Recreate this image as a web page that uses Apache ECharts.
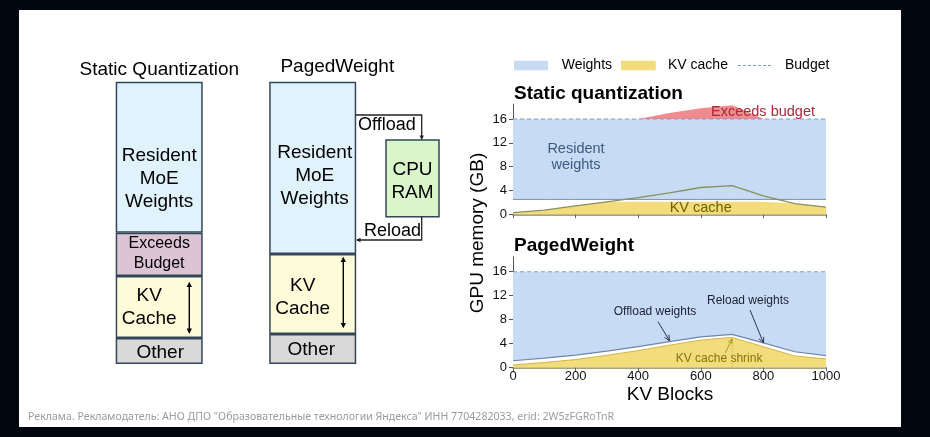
<!DOCTYPE html>
<html><head><meta charset="utf-8">
<script src="https://cdn.jsdelivr.net/npm/echarts@6/dist/echarts.min.js"></script>
<style>html,body{margin:0;padding:0;background:#02060f;}#c{width:930px;height:437px;}</style>
</head><body><div id="c"></div>
<script>
// ---------- Left schematic: memory layout (stacked bars, arbitrary units) ----------
const schemeCats = ['Static Quantization', 'PagedWeight'];
const schemeOther = [26, 30];
const schemeKv = [62, 80];
const schemeExceeds = [43, null];
const schemeWeights = [151, 172];
const schemeMax = 282;

// ---------- Right charts: GPU memory (GB) vs KV Blocks ----------
const kvBlocks = [0, 100, 200, 300, 400, 500, 600, 700, 800, 900, 1000];
const blockTicks = [0, 200, 400, 600, 800, 1000];
const gbTicks = [0, 4, 8, 12, 16];
const gbMax = 18.5;
const budgetGB = 16;

// Static quantization
const staticResidentBottom = 2.5;
const staticKvLine = [0.27, 0.7, 1.4, 2.1, 2.8, 3.6, 4.5, 4.8, 3.1, 1.8, 1.2];
const staticKvFill = [0.27, 0.7, 1.4, 2.1, 2.1, 2.1, 2.1, 2.1, 2.1, 1.8, 1.2];
const exceedBlocks = [400, 500, 600, 700, 750, 800];
const exceedTop = [16, 17.0, 17.8, 18.3, 17.2, 16];

// PagedWeight
const pagedWeightsBottom = [1.1, 1.55, 2.05, 2.7, 3.45, 4.3, 5.1, 5.5, 4.1, 2.6, 1.95];
const pagedKv = [0.4, 0.8, 1.3, 2.0, 2.8, 3.7, 4.55, 5.0, 3.45, 1.9, 1.4];

// ---------- styling ----------
const FONT = 'Liberation Sans, Arial, sans-serif';
const C_BLUE = '#c7dbf4', C_YEL = '#f2dc7c', C_RED = '#f28b90';
const C_BUDGET = '#7f9cc3';

const chart = echarts.init(document.getElementById('c'));
const pairs = (xs, ys) => xs.map((x, i) => [x, ys[i]]);
const flat = (v) => kvBlocks.map(x => [x, v]);
const edge = (v) => [[kvBlocks[0], v], [kvBlocks[kvBlocks.length - 1], v]];

const barBorder = { borderColor: '#34475a', borderWidth: 1.5 };
function barSeries(name, vals, color, text, fontSize, lh, offsets) {
  return {
    type: 'bar', name, xAxisIndex: 0, yAxisIndex: 0, stack: 'mem', barWidth: 87,
    itemStyle: Object.assign({ color }, barBorder),
    data: vals.map((v, i) => ({
      value: v,
      label: { show: v != null, position: 'inside', formatter: text, offset: offsets[i],
        fontSize, lineHeight: lh, color: '#000', fontFamily: FONT }
    }))
  };
}
function lineSeries(idx, data, opts) {
  return Object.assign({ type: 'line', xAxisIndex: idx, yAxisIndex: idx, data, symbol: 'none',
    silent: true, animation: false, lineStyle: { width: 0 } }, opts);
}
function valX(idx, showLabels) {
  return { type: 'value', gridIndex: idx, min: 0, max: 1000, interval: 200,
    axisLine: { lineStyle: { color: '#8c8550', width: 1.5 } },
    axisTick: { show: true, length: 4, customValues: blockTicks, lineStyle: { color: '#666' } },
    axisLabel: { show: showLabels, fontSize: 13, color: '#111', margin: 3, fontFamily: FONT,
      customValues: blockTicks, formatter: v => String(v) },
    splitLine: { show: false } };
}
function valY(idx) {
  return { type: 'value', gridIndex: idx, min: 0, max: gbMax, interval: 4,
    axisLine: { show: true, lineStyle: { color: '#555', width: 1 } },
    axisTick: { show: true, length: 4, customValues: gbTicks, lineStyle: { color: '#555' } },
    axisLabel: { fontSize: 13, color: '#111', margin: 6, fontFamily: FONT, customValues: gbTicks,
      formatter: v => gbTicks.includes(v) ? String(v) : '' },
    splitLine: { show: false } };
}

chart.setOption({
  backgroundColor: '#02060f',
  animation: false,
  grid: [
    { left: 82.45, width: 307, top: 81.7, height: 282.3 },
    { left: 513, width: 313, top: 104.1, height: 110.2 },
    { left: 513, width: 313, top: 256.8, height: 110.5 }
  ],
  xAxis: [
    { type: 'category', gridIndex: 0, data: schemeCats, show: false },
    valX(1, false),
    valX(2, true)
  ],
  yAxis: [
    { type: 'value', gridIndex: 0, min: 0, max: schemeMax, show: false },
    valY(1),
    valY(2)
  ],
  series: [
    barSeries('Other', schemeOther, '#d9d9d9', 'Other', 19, 23, [[1, 2], [-1.4, 1]]),
    barSeries('KV Cache', schemeKv, '#fdfbd8', 'KV\nCache', 19, 23, [[-10, 0], [-10, 3]]),
    barSeries('Exceeds Budget', schemeExceeds, '#dcc4d5', 'Exceeds\nBudget', 16, 20, [[0, -1], [0, 0]]),
    barSeries('Resident MoE Weights', schemeWeights, '#e0f2fc', 'Resident\nMoE\nWeights', 19, 23, [[0, 21], [2, 8.4]]),

    // Static quantization
    lineSeries(1, pairs(exceedBlocks, exceedTop), { name: 'Exceeds budget', areaStyle: { color: C_RED, opacity: 1 } }),
    lineSeries(1, edge(budgetGB), { name: 'Weights', areaStyle: { color: C_BLUE, opacity: 1 } }),
    lineSeries(1, flat(staticResidentBottom), { areaStyle: { color: '#ffffff', opacity: 1 }, lineStyle: { width: 1, color: '#7e8fa6' } }),
    lineSeries(1, pairs(kvBlocks, staticKvFill), { name: 'KV cache', areaStyle: { color: C_YEL, opacity: 1 } }),
    lineSeries(1, pairs(kvBlocks, staticKvLine), { lineStyle: { width: 1.3, color: '#87905e' } }),
    lineSeries(1, edge(budgetGB), { name: 'Budget', lineStyle: { width: 1.2, color: C_BUDGET, type: [4, 3] } }),

    // PagedWeight
    lineSeries(2, edge(budgetGB), { areaStyle: { color: C_BLUE, opacity: 1 } }),
    lineSeries(2, pairs(kvBlocks, pagedWeightsBottom), { areaStyle: { color: '#ffffff', opacity: 1 }, lineStyle: { width: 1.2, color: '#6f86ad' } }),
    lineSeries(2, pairs(kvBlocks, pagedKv), { areaStyle: { color: C_YEL, opacity: 1 }, lineStyle: { width: 1, color: '#d2b646' } }),
    lineSeries(2, edge(budgetGB), { lineStyle: { width: 1.2, color: C_BUDGET, type: [4, 3] } })
  ]
});

// ---------- graphics (panel, titles, legend, annotations) ----------
function txt(text, x, y, size, opts) {
  return Object.assign({ type: 'text', z: 100, style: Object.assign({ text, x, y,
    fontSize: size, fontFamily: FONT, fill: '#000', align: 'center', verticalAlign: 'middle' }, (opts || {})) });
}
function head(x1, y1, x2, y2, color, len, filled, w) {
  const a = Math.atan2(y2 - y1, x2 - x1);
  const p1 = [x2 - len * Math.cos(a - 0.45), y2 - len * Math.sin(a - 0.45)];
  const p2 = [x2 - len * Math.cos(a + 0.45), y2 - len * Math.sin(a + 0.45)];
  return filled
    ? { type: 'polygon', z: 100, shape: { points: [[x2, y2], p1, p2] }, style: { fill: color } }
    : { type: 'polyline', z: 100, shape: { points: [p1, [x2, y2], p2] }, style: { stroke: color, lineWidth: w, fill: null } };
}
function arrow(x1, y1, x2, y2, color, w, len, filled) {
  return [{ type: 'line', z: 100, shape: { x1, y1, x2, y2 }, style: { stroke: color, lineWidth: w } },
    head(x1, y1, x2, y2, color, len, filled, w)];
}
function dblArrow(x, y1, y2) {
  return [{ type: 'line', z: 100, shape: { x1: x, y1: y1 + 2, x2: x, y2: y2 - 2 }, style: { stroke: '#000', lineWidth: 1.4 } },
    head(x, y2, x, y1, '#000', 6, true), head(x, y1, x, y2, '#000', 6, true)];
}
const px = (p) => chart.convertToPixel({ gridIndex: 2 }, p);

const g = [];
g.push({ type: 'rect', z: -1, shape: { x: 19, y: 10, width: 882, height: 417 }, style: { fill: '#ffffff' } });
// left titles
g.push(txt('Static Quantization', 159.3, 69.5, 19));
g.push(txt('PagedWeight', 337.3, 66.7, 19));
// KV double arrows
g.push(...dblArrow(189.3, 281.7, 334));
g.push(...dblArrow(343.3, 256.7, 328.3));
// CPU RAM box
g.push({ type: 'rect', z: 100, shape: { x: 386, y: 140, width: 53, height: 76.7 }, style: { fill: '#d9f5ca', stroke: '#34475a', lineWidth: 1.5 } });
g.push(txt('CPU', 412.5, 169.5, 19));
g.push(txt('RAM', 412.5, 192.7, 19));
// Offload / Reload connectors
g.push({ type: 'polyline', z: 100, shape: { points: [[356, 115], [421.7, 115], [421.7, 139]] }, style: { stroke: '#222', lineWidth: 1.3, fill: null } });
g.push(head(421.7, 130, 421.7, 140, '#222', 5, true));
g.push({ type: 'polyline', z: 100, shape: { points: [[421.7, 216.7], [421.7, 240], [357, 240]] }, style: { stroke: '#222', lineWidth: 1.3, fill: null } });
g.push(head(366, 240, 356, 240, '#222', 5, true));
g.push(txt('Offload', 358, 125, 18, { align: 'left' }));
g.push(txt('Reload', 364, 231.5, 18, { align: 'left' }));

// right legend
g.push({ type: 'rect', z: 100, shape: { x: 514, y: 60.7, width: 34, height: 9.5 }, style: { fill: C_BLUE } });
g.push(txt('Weights', 561.7, 65.5, 14, { align: 'left' }));
g.push({ type: 'rect', z: 100, shape: { x: 621, y: 60.7, width: 34.7, height: 9.5 }, style: { fill: C_YEL } });
g.push(txt('KV cache', 668, 65.5, 14, { align: 'left' }));
g.push({ type: 'line', z: 100, shape: { x1: 738, y1: 65.5, x2: 773, y2: 65.5 }, style: { stroke: C_BUDGET, lineWidth: 1.2, lineDash: [3, 2] } });
g.push(txt('Budget', 785, 65.5, 14, { align: 'left' }));

// right titles
g.push(txt('Static quantization', 514, 93.4, 19, { align: 'left', fontWeight: 'bold' }));
g.push(txt('PagedWeight', 514, 245.7, 19, { align: 'left', fontWeight: 'bold' }));
// axis names
g.push({ type: 'text', z: 100, x: 478, y: 233, rotation: Math.PI / 2,
  style: { text: 'GPU memory (GB)', x: 0, y: 0, fontSize: 19, fontFamily: FONT, fill: '#000', align: 'center', verticalAlign: 'middle' } });
g.push(txt('KV Blocks', 670, 395, 19));

// top chart in-plot labels
g.push(txt('Resident\nweights', 576, 157, 14.5, { fill: '#3c5a84', lineHeight: 16 }));
g.push(txt('KV cache', 700.7, 207.7, 14.5, { fill: '#6e6200' }));
g.push(txt('Exceeds budget', 763, 112.3, 14.5, { fill: '#a52a3a' }));

// bottom chart annotations (anchored to data coordinates)
const tOff = px([500, 4.45]);
g.push(...arrow(tOff[0] - 11.5, tOff[1] - 19, tOff[0], tOff[1], '#2b3550', 1, 6, false));
g.push(txt('Offload weights', tOff[0] - 14.5, tOff[1] - 28.7, 12, { fill: '#1a2035' }));
const tRel = px([800, 4.1]);
g.push(...arrow(tRel[0] - 13.4, tRel[1] - 32.8, tRel[0], tRel[1], '#2b3550', 1, 6, false));
g.push(txt('Reload weights', tRel[0] - 15.4, tRel[1] - 42.1, 12, { fill: '#1a2035' }));
const tKv = px([700, 4.7]);
const tKv0 = px([700, 0]);
g.push({ type: 'line', z: 99, shape: { x1: tKv[0], y1: tKv[1], x2: tKv0[0], y2: tKv0[1] }, style: { stroke: '#b09a30', lineWidth: 0.8, lineDash: [1, 2] } });
g.push(...arrow(tKv[0] - 7, tKv[1] + 13.8, tKv[0], tKv[1], '#9a8520', 0.8, 5, false));
g.push(txt('KV cache shrink', tKv[0] - 13, tKv[1] + 19.8, 12, { fill: '#86740a' }));

// footer
g.push({ type: 'text', z: 100, style: { text: 'Реклама. Рекламодатель: АНО ДПО "Образовательные технологии Яндекса" ИНН 7704282033, erid: 2W5zFGRoTnR',
  x: 28, y: 416.5, fontSize: 10.6, fontFamily: 'Noto Sans, sans-serif', fill: '#9b9b9b', align: 'left', verticalAlign: 'middle' } });

chart.setOption({ graphic: { elements: g } });
</script></body></html>
